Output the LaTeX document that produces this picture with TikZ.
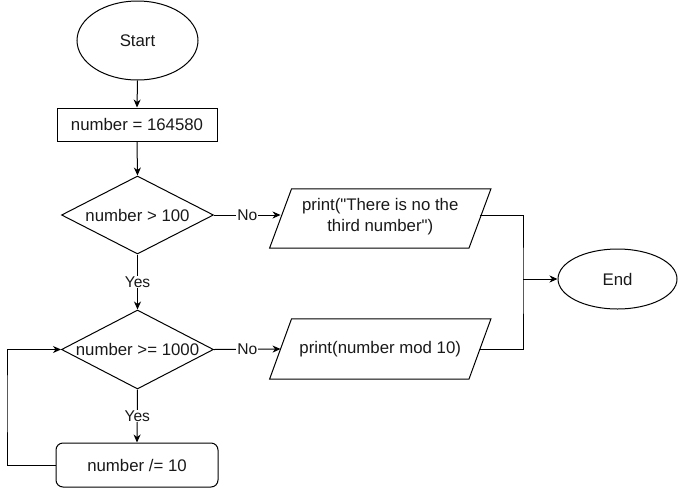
\documentclass[tikz,border=0pt]{standalone}
\usepackage{fontspec}
\setmainfont{Liberation Sans}[Ligatures=TeXOff]
\usetikzlibrary{shapes.geometric,arrows.meta}
\begin{document}
\begin{tikzpicture}[x=1pt,y=-1pt,
  every node/.style={font=\fontsize{16.8}{21}\selectfont, text=black!90},
  base/.style={draw=black, line width=1pt, inner sep=0pt},
  term/.style={base, ellipse},
  procbox/.style={base, rectangle},
  roundbox/.style={base, rectangle, rounded corners=7pt},
  decision/.style={base, diamond},
  iobox/.style={rectangle, inner sep=0pt, align=center},
  iodraw/.style={draw=black, line width=1pt, line join=miter},
  txt/.style={inner sep=0pt, align=center},
  conn/.style={line width=1pt, draw=black},
  arr/.style={conn, -{Stealth[length=8pt,width=7pt,inset=2.5pt]}},
  lab/.style={fill=white, inner sep=1pt, font=\fontsize{15.6}{18}\selectfont}
]
\useasboundingbox (0,0) rectangle (678,488);

\node[term, minimum width=121, minimum height=79] (start) at (137.5,40.5) {Start};
\node[procbox, minimum width=160, minimum height=33] (init) at (137,124.5) {number = 164580};
\node[decision, minimum width=152, minimum height=78] (d1) at (137.5,215) {};
\node[txt] (t1) at (d1.center) {number > 100};
\node[decision, minimum width=152, minimum height=79] (d2) at (137.5,349.5) {};
\node[txt] (t2) at (d2.center) {number >= 1000};
\node[roundbox, minimum width=162, minimum height=44] (body) at (137,465) {number /= 10};
\node[iobox, minimum width=199, minimum height=59] (p1) at (380.25,217) {print("There is no the\\third number")};
\draw[iodraw] ([xshift=11pt,yshift=-1.5pt]p1.north west) -- ([xshift=11pt,yshift=-1.5pt]p1.north east) -- ([xshift=-11pt,yshift=-1.5pt]p1.south east) -- ([xshift=-11pt,yshift=-1.5pt]p1.south west) -- cycle;
\node[iobox, minimum width=199, minimum height=60] (p2) at (380.25,349) {print(number mod 10)};
\draw[iodraw] ([xshift=11pt]p2.north west) -- ([xshift=11pt]p2.north east) -- ([xshift=-11pt]p2.south east) -- ([xshift=-11pt]p2.south west) -- cycle;
\node[term, minimum width=119, minimum height=60] (end) at (617.5,279) {End};

\coordinate (jn) at (523,279);
\coordinate (lp) at (7,400);

\draw[arr] (start.south) -- (init.north);
\draw[arr] (init.south) -- (d1.north);
\draw[arr] (d1.south) -- node[lab] (y1) {Yes} (d2.north);
\draw[arr] (d2.south) -- node[lab] (y2) {Yes} (body.north);
\draw[arr] (d1.east) -- node[lab] (n1) {No} (d1.east -| p1.west);
\draw[arr] (d2.east) -- node[lab] (n2) {No} (p2.west);
\draw[conn] (d1.east -| p1.east) -| (jn) |- (p2.east);
\draw[arr] (jn) -- (end.west);
\draw[arr] (body.west) -| (lp) |- (d2.west);
\end{tikzpicture}
\end{document}
